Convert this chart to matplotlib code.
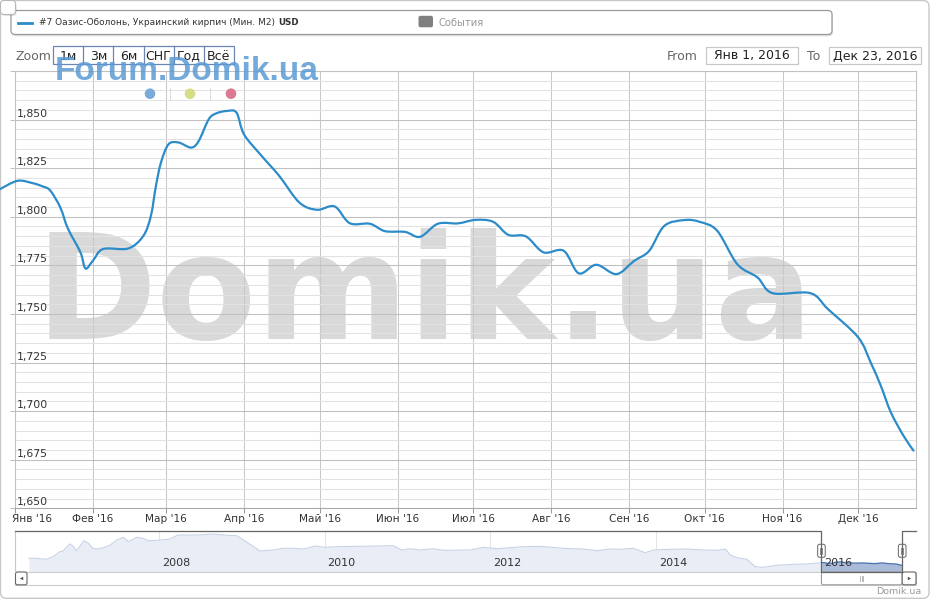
import datetime as dt
import numpy as np
import matplotlib
matplotlib.use('Agg')
import matplotlib.pyplot as plt
import matplotlib.dates as mdates
from matplotlib.patches import FancyBboxPatch, Rectangle, Circle, PathPatch
from matplotlib.path import Path

plt.rcParams['font.family'] = ['DejaVu Sans']

# ---------------- data ----------------
dates = ["2015-12-26", "2016-01-02", "2016-01-08", "2016-01-12", "2016-01-15", "2016-01-19",
         "2016-01-22", "2016-01-27", "2016-01-29", "2016-02-01", "2016-02-05", "2016-02-15",
         "2016-02-21", "2016-02-24", "2016-02-26", "2016-02-28", "2016-03-02", "2016-03-06",
         "2016-03-11", "2016-03-14", "2016-03-18", "2016-03-21", "2016-03-25", "2016-03-29",
         "2016-04-01", "2016-04-08", "2016-04-15", "2016-04-23", "2016-04-30", "2016-05-07",
         "2016-05-13", "2016-05-21", "2016-05-27", "2016-06-04", "2016-06-10", "2016-06-17",
         "2016-06-25", "2016-07-02", "2016-07-09", "2016-07-15", "2016-07-22", "2016-07-29",
         "2016-08-06", "2016-08-12", "2016-08-19", "2016-08-27", "2016-09-03", "2016-09-09",
         "2016-09-15", "2016-09-23", "2016-09-29", "2016-10-06", "2016-10-14", "2016-10-22",
         "2016-10-28", "2016-11-12", "2016-11-19", "2016-12-01", "2016-12-06", "2016-12-10",
         "2016-12-14", "2016-12-19", "2016-12-23"]
values = [1814.2, 1818.5, 1817.3, 1815.6, 1813.5, 1804.8,
          1794.0, 1781.7, 1773.4, 1777.5, 1783.4, 1783.7,
          1790.2, 1800.5, 1815.9, 1827.9, 1837.3, 1838.2,
          1835.6, 1839.0, 1850.2, 1853.2, 1854.4, 1853.6,
          1842.4, 1831.3, 1821.0, 1807.3, 1803.6, 1805.3,
          1796.7, 1796.4, 1792.6, 1792.2, 1789.7, 1796.4,
          1796.6, 1798.4, 1797.4, 1790.7, 1789.9, 1781.7,
          1782.5, 1770.9, 1775.3, 1770.5, 1777.3, 1782.5,
          1795.3, 1798.3, 1797.4, 1792.8, 1775.6, 1768.8,
          1760.7, 1760.7, 1752.5, 1738.0, 1725.0, 1713.1,
          1699.4, 1687.4, 1679.7]

# navigator history (decimal years, USD)
nav_years = [2006.43, 2006.52, 2006.64, 2006.72, 2006.80, 2006.84, 2006.92, 2006.96, 2007.00,
             2007.05, 2007.09, 2007.15, 2007.20, 2007.25, 2007.33, 2007.41, 2007.49, 2007.57,
             2007.63, 2007.73, 2007.81, 2007.87, 2007.99, 2008.13, 2008.23, 2008.46, 2008.66,
             2008.78, 2008.94, 2009.10, 2009.22, 2009.38, 2009.50, 2009.62, 2009.74, 2009.82,
             2009.88, 2010.00, 2010.15, 2010.43, 2010.83, 2010.93, 2011.03, 2011.15, 2011.31,
             2011.43, 2011.76, 2011.92, 2012.08, 2012.24, 2012.40, 2012.60, 2012.88, 2013.12,
             2013.29, 2013.45, 2013.57, 2013.73, 2013.87, 2013.97, 2014.17, 2014.37, 2014.57,
             2014.74, 2014.84, 2014.90, 2014.98, 2015.10, 2015.20, 2015.30, 2015.46, 2015.66,
             2015.82]
nav_values = [2035, 2035, 1985, 2115, 2365, 2400, 2750, 2665, 2400,
              2665, 2915, 2785, 2535, 2500, 2565, 2700, 2950, 3085,
              2865, 3085, 3035, 2915, 2935, 3000, 3200, 3200, 3250,
              3200, 3165, 2735, 2400, 2450, 2535, 2535, 2500, 2565,
              2650, 2585, 2615, 2635, 2665, 2450, 2515, 2450, 2515,
              2435, 2450, 2585, 2515, 2565, 2615, 2635, 2535, 2500,
              2415, 2500, 2485, 2535, 2315, 2450, 2485, 2500, 2450,
              2435, 2500, 2200, 2065, 1985, 1615, 1585, 1685, 1735,
              1750]

month_labels = ["Янв '16", "Фев '16", "Мар '16", "Апр '16", "Май '16", "Июн '16",
                "Июл '16", "Авг '16", "Сен '16", "Окт '16", "Ноя '16", "Дек '16"]
y_ticks = [1650, 1675, 1700, 1725, 1750, 1775, 1800, 1825, 1850, 1875]
y_labels = ["1,650", "1,675", "1,700", "1,725", "1,750", "1,775", "1,800", "1,825", "1,850"]
nav_year_ticks = [2008, 2010, 2012, 2014, 2016]
zoom_buttons = ["1м", "3м", "6м", "СНГ", "Год", "Всё"]
series_name = "#7 Оазис-Оболонь, Украинский кирпич (Мин. М2)"
currency = "USD"
events_label = "События"
date_from = "Янв 1, 2016"
date_to = "Дек 23, 2016"
range_start = "2016-01-01"
range_end = "2016-12-24"

# ---------------- figure ----------------
W, H = 931, 600
fig = plt.figure(figsize=(W / 100, H / 100), dpi=100)
fig.patch.set_facecolor('white')


def fax(l, t, r, b):
    return [l / W, 1 - b / H, (r - l) / W, (b - t) / H]


bg = fig.add_axes([0, 0, 1, 1], zorder=0)
bg.set_xlim(0, W); bg.set_ylim(H, 0); bg.axis('off')
bg.add_patch(FancyBboxPatch((0.5, 0.5), 928.5, 597.8, boxstyle='round,pad=0,rounding_size=6',
                            fc='white', ec='#c8c8c8', lw=1))

ov = fig.add_axes([0, 0, 1, 1], zorder=5)
ov.set_xlim(0, W); ov.set_ylim(H, 0); ov.axis('off'); ov.patch.set_alpha(0)

LINE_C = '#2b8cc9'

# ---------------- main chart ----------------
ax = fig.add_axes(fax(15, 71, 916, 508.3), zorder=2)
ax.set_facecolor('none')
x = mdates.date2num([dt.datetime.strptime(d, "%Y-%m-%d") for d in dates])
y = np.asarray(values)
x0 = mdates.date2num(dt.datetime.strptime(range_start, "%Y-%m-%d"))
x1 = mdates.date2num(dt.datetime.strptime(range_end, "%Y-%m-%d"))
ax.set_xlim(x0, x1)
ax.set_ylim(y_ticks[0], y_ticks[-1])
ax.set_axisbelow(True)

ax.set_yticks(y_ticks)
ax.set_yticks(np.arange(y_ticks[0], y_ticks[-1] + 1, 5), minor=True)
ax.tick_params(axis='y', which='major', direction='out', length=3.6, color='#c0c0c0',
               labelleft=False, width=0.75)
ax.tick_params(axis='y', which='minor', length=0)
ax.grid(True, axis='y', which='minor', color='#e2e2e2', lw=0.75)
ax.grid(True, axis='y', which='major', color='#c0c0c0', lw=0.75)

month_ticks = [mdates.date2num(dt.datetime(2016, m, 1)) for m in range(1, 13)]
ax.set_xticks(month_ticks)
ax.tick_params(axis='x', direction='out', length=3.6, color='#999999', width=0.75,
               labelbottom=False)
ax.grid(True, axis='x', which='major', color='#c8c8c8', lw=0.75)
for s in ax.spines.values():
    s.set_color('#c0c0c0'); s.set_linewidth(0.75)
ax.spines['bottom'].set_color('#a8a8a8')

for i, (mt, lab) in enumerate(zip(month_ticks, month_labels)):
    if i == 0:
        ax.annotate(lab, xy=(mt, 0), xycoords=ax.get_xaxis_transform(), xytext=(-2.5, -11),
                    textcoords='offset pixels', ha='left', va='center', fontsize=7.6,
                    color='#333333')
    else:
        ax.annotate(lab, xy=(mt, 0), xycoords=ax.get_xaxis_transform(), xytext=(0, -11),
                    textcoords='offset pixels', ha='center', va='center', fontsize=7.6,
                    color='#333333')

for v, lab in zip(y_ticks, y_labels):
    ax.annotate(lab, xy=(0, v), xycoords=ax.get_yaxis_transform(), xytext=(2, 3),
                textcoords='offset pixels', ha='left', va='baseline', fontsize=7.8,
                color='#333333')

ax.text(0.455, 0.388, 'Domik.ua', transform=ax.transAxes, ha='center', va='baseline',
        fontsize=105, fontweight='bold', color='#d9d9d9', zorder=0.1)


def spline_path(xs, ys):
    n = len(xs)
    verts = [(xs[0], ys[0])]
    codes = [Path.MOVETO]
    for i in range(n - 1):
        p0 = i - 1 if i > 0 else i
        p3 = i + 2 if i + 2 < n else i + 1
        c1 = (xs[i] + (xs[i + 1] - xs[p0]) / 6, ys[i] + (ys[i + 1] - ys[p0]) / 6)
        c2 = (xs[i + 1] - (xs[p3] - xs[i]) / 6, ys[i + 1] - (ys[p3] - ys[i]) / 6)
        verts += [c1, c2, (xs[i + 1], ys[i + 1])]
        codes += [Path.CURVE4] * 3
    return Path(verts, codes)


ax.add_patch(PathPatch(spline_path(x, y), fill=False, ec=LINE_C, lw=1.6, clip_on=False,
                       zorder=3, capstyle='round', joinstyle='round'))

# ---------------- navigator ----------------
axn = fig.add_axes(fax(15, 531, 916, 571.7), zorder=2)
axn.set_facecolor('none')
axn.set_xlim(2006.261, 2017.142)
NAV_MIN, NAV_MAX = 1365, 3400
axn.set_ylim(NAV_MIN, NAV_MAX)
axn.axis('off')
yr16 = 2016 + (x - x0) / 366.0
nx = np.concatenate([nav_years, yr16])
ny = np.concatenate([nav_values, y])
for yt in nav_year_ticks:
    axn.axvline(yt, color='#e4e4e4', lw=0.75, zorder=0.5)
axn.fill_between(nx, ny, NAV_MIN, color='#e9edf5', lw=0, zorder=1)
axn.plot(nx, ny, color='#c9d3e6', lw=0.8, zorder=1.2)
sel = nx >= 2016
axn.fill_between(nx[sel], ny[sel], NAV_MIN, color='#a9bbd9', lw=0, zorder=1.5)
axn.plot(nx[sel], ny[sel], color='#4a72b0', lw=0.9, zorder=1.6)
for yt in nav_year_ticks:
    axn.annotate(str(yt), xy=(yt, 0.21), xycoords=axn.get_xaxis_transform(), xytext=(3, 0),
                 textcoords='offset pixels', ha='left', va='center', fontsize=8,
                 color='#333333', zorder=3)

sel_lo = 2016.0
sel_hi = yr16[-1]


def nav_px(xv):
    disp = axn.transData.transform((xv, NAV_MIN))
    return ov.transData.inverted().transform(disp)[0]


h1 = nav_px(sel_lo)
h2 = nav_px(sel_hi)
NT, NB = 531, 571.7
ov.plot([15, 15], [NT, NB], color='#c8c8c8', lw=0.8)
ov.plot([15, h1, h1, h2, h2, 916], [NT, NT, NB, NB, NT, NT], color='#666666', lw=0.9)

# scrollbar
ov.add_patch(Rectangle((15, NB), 901, 13.3, fc='white', ec='#cccccc', lw=0.8))
ov.add_patch(FancyBboxPatch((h1, NB + 0.3), h2 - h1, 12.8, boxstyle='round,pad=0,rounding_size=2',
                            fc='white', ec='#9a9a9a', lw=0.8))
for dx in (-1.6, 0, 1.6):
    ov.plot([(h1 + h2) / 2 + dx] * 2, [NB + 4, NB + 9.5], color='#b8b8b8', lw=0.7)
ov.add_patch(FancyBboxPatch((15.5, NB + 0.3), 11.5, 12.8, boxstyle='round,pad=0,rounding_size=2',
                            fc='white', ec='#666666', lw=0.8))
ov.add_patch(FancyBboxPatch((h2, NB + 0.3), 916 - h2, 12.8, boxstyle='round,pad=0,rounding_size=2',
                            fc='white', ec='#666666', lw=0.8))
ov.plot([21.2], [NB + 6.7], marker='<', ms=2.5, color='#555555', mew=0)
ov.plot([(h2 + 916) / 2], [NB + 6.7], marker='>', ms=2.5, color='#555555', mew=0)

# handles
for hx in (h1, h2):
    ov.add_patch(FancyBboxPatch((hx - 3.8, 544.3), 7.6, 13, boxstyle='round,pad=0,rounding_size=2',
                                fc='white', ec='#777777', lw=0.8))
    for dx in (-1.0, 1.0):
        ov.plot([hx + dx] * 2, [547.5, 554.3], color='#777777', lw=0.6)

ov.text(921, 591.5, 'Domik.ua', ha='right', va='center', fontsize=6.8, color='#9a9a9a')

# ---------------- legend ----------------
ov.add_patch(FancyBboxPatch((12.5, 11.8), 820.5, 24.5, boxstyle='round,pad=0,rounding_size=4',
                            fc='#000000', ec='none', alpha=0.12))
ov.add_patch(FancyBboxPatch((11, 10.5), 821, 24, boxstyle='round,pad=0,rounding_size=4',
                            fc='white', ec='#9a9a9a', lw=0.9))
ov.plot([18, 32], [22.5, 22.5], color=LINE_C, lw=2)
t1 = ov.text(39, 22.5, series_name + ' ', ha='left', va='center', fontsize=6.5, color='#333333')
ov.annotate(currency, xy=(1, 0.5), xycoords=t1, ha='left', va='center', fontsize=6.3,
            fontweight='bold', color='#333333')
ov.add_patch(FancyBboxPatch((418.5, 15.8), 14.5, 11.5, boxstyle='round,pad=0,rounding_size=2',
                            fc='#808080', ec='none'))
ov.text(438.5, 22.5, events_label, ha='left', va='center', fontsize=7.2, color='#999999')

# top-left corner square
ov.add_patch(FancyBboxPatch((1.5, 1.8), 15, 14, boxstyle='round,pad=0,rounding_size=3',
                            fc='#000000', ec='none', alpha=0.12))
ov.add_patch(FancyBboxPatch((0.5, 0.5), 15, 14, boxstyle='round,pad=0,rounding_size=3',
                            fc='white', ec='#b8b8b8', lw=0.8))

# ---------------- zoom selector ----------------
ov.text(15, 56.5, 'Zoom', ha='left', va='center', fontsize=9, color='#666666')
BX0, BW = 53.3, 30.07
ov.add_patch(Rectangle((BX0, 46.3), BW * len(zoom_buttons), 18, fc='white', ec='#6b86b3', lw=0.9))
for i, lab in enumerate(zoom_buttons):
    if i > 0:
        ov.plot([BX0 + BW * i] * 2, [46.3, 64.3], color='#6b86b3', lw=0.9)
    ov.text(BX0 + BW * (i + 0.5), 56, lab, ha='center', va='center', fontsize=9, color='#222222')

ov.text(697.5, 56.5, 'From', ha='right', va='center', fontsize=9, color='#666666')
ov.add_patch(Rectangle((705.7, 46.7), 92, 17.6, fc='white', ec='#c8c8c8', lw=0.9))
ov.text(751.7, 56, date_from, ha='center', va='center', fontsize=9, color='#222222')
ov.text(820.5, 56.5, 'To', ha='right', va='center', fontsize=9, color='#666666')
ov.add_patch(Rectangle((829.3, 46.7), 91.7, 17.6, fc='white', ec='#c8c8c8', lw=0.9))
ov.text(875.2, 56, date_to, ha='center', va='center', fontsize=9, color='#222222')

# watermark + colour dots
ov.text(55, 80.5, 'Forum.Domik.ua', ha='left', va='baseline', fontsize=24, fontweight='bold',
        family=['Liberation Sans', 'DejaVu Sans'], color='#5b9bd5', alpha=0.85)
for cx, col in ((150, '#7aaad7'), (190, '#d7dc86'), (231, '#dc7891')):
    ov.add_patch(Circle((cx, 93.7), 5.3, fc=col, ec='none'))
for sx in (170, 210):
    ov.plot([sx, sx], [88, 100], color='#dddddd', lw=0.8)

fig.savefig('out.png', dpi=100, facecolor='white')
